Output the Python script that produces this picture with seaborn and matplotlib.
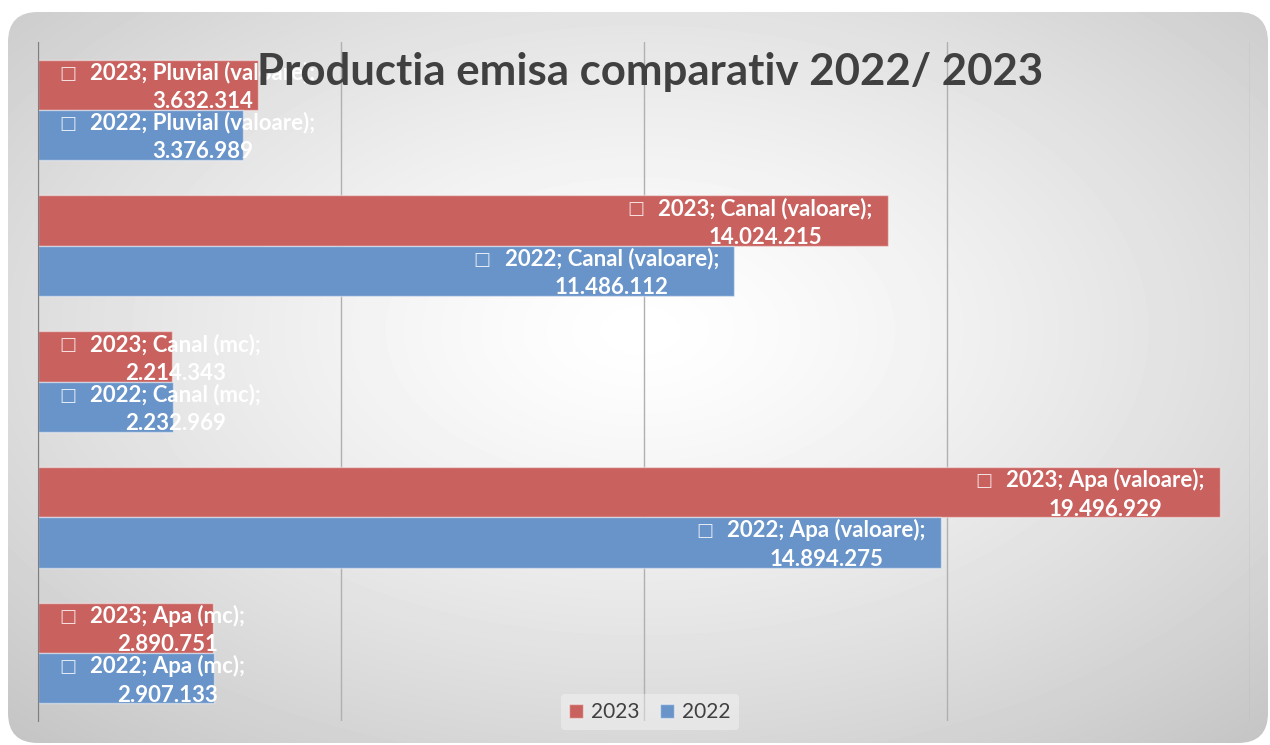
import numpy as np
import pandas as pd
import seaborn as sns
import matplotlib.pyplot as plt
from matplotlib.patches import FancyBboxPatch

# Data
categorii = ['Pluvial (valoare)', 'Canal (valoare)', 'Canal (mc)', 'Apa (valoare)', 'Apa (mc)']
ani = ['2023', '2022']
valori_2023 = [3632314, 14024215, 2214343, 19496929, 2890751]
valori_2022 = [3376989, 11486112, 2232969, 14894275, 2907133]
culori = {'2023': '#C9625F', '2022': '#6894CA'}

df = pd.DataFrame({
    'categorie': categorii * 2,
    'an': ['2023'] * len(categorii) + ['2022'] * len(categorii),
    'valoare': valori_2023 + valori_2022,
})

sns.set_style('white')
plt.rcParams['font.family'] = ['Lato', 'DejaVu Sans']

fig = plt.figure(figsize=(12.7, 7.45), dpi=100)

# Background: rounded panel with a radial grey gradient
bg = fig.add_axes([0, 0, 1, 1], zorder=-1)
bg.set_xlim(0, 1270)
bg.set_ylim(745, 0)
bg.axis('off')
yy, xx = np.mgrid[0:745, 0:1270]
r = np.sqrt(((xx - 640) / 700) ** 2 + ((yy - 330) / 420) ** 2)
grad = 1 - 0.16 * r ** 1.3
img = bg.imshow(grad, cmap='gray', vmin=0, vmax=1, extent=(0, 1270, 745, 0), aspect='auto')
panel = FancyBboxPatch((8, 12), 1260, 731, boxstyle='round,pad=0,rounding_size=30',
                       transform=bg.transData, fc='none', ec='none')
bg.add_patch(panel)
img.set_clip_path(panel)

# Main chart
ax = fig.add_axes([38 / 1270, 1 - 721 / 745, (1250 - 38) / 1270, (721 - 42) / 745])
ax.patch.set_alpha(0)
sns.barplot(data=df, x='valoare', y='categorie', hue='an', hue_order=ani, order=categorii,
            palette=culori, saturation=1, orient='h', width=0.74,
            edgecolor=(1, 1, 1, 0.45), linewidth=1, ax=ax, zorder=2)

ax.set_xlim(0, 20e6)
ax.set_xticks(np.arange(0, 20.1e6, 5e6))
ax.set_xticklabels([])
ax.set_yticklabels([])
ax.tick_params(length=0)
ax.set_xlabel('')
ax.set_ylabel('')
ax.grid(axis='x', color='#b0b0b0', lw=1)
ax.set_axisbelow(True)
for s in ['top', 'right', 'bottom']:
    ax.spines[s].set_visible(False)
ax.spines['left'].set_color('#7f7f7f')

# Data labels
for an, cont in zip(ani, ax.containers):
    for cat, bar in zip(categorii, cont):
        v = bar.get_width()
        yc = bar.get_y() + bar.get_height() / 2
        txt = f'{an}; {cat};\n{v:,.0f}'.replace(',', '.')
        if v > 5e6:
            t = ax.annotate(txt, (v, yc), xytext=(-15, -2), textcoords='offset pixels',
                            ha='right', va='center', multialignment='center', linespacing=1.45,
                            fontsize=16, weight='bold', color='white', zorder=5)
        else:
            t = ax.annotate(txt, (0, yc), xytext=(52, -2), textcoords='offset pixels',
                            ha='left', va='center', multialignment='center', linespacing=1.45,
                            fontsize=16, weight='bold', color='white', zorder=5)
        ax.annotate('\u25A1', xy=(0, 0.76), xycoords=t, xytext=(-14, 0),
                    textcoords='offset pixels', ha='right', va='center',
                    fontsize=13, color=(1, 1, 1, 0.8), family='DejaVu Sans', zorder=5)

# Legend
handles, labels = ax.get_legend_handles_labels()
ax.get_legend().remove()
fig.legend(handles, labels, loc='center', bbox_to_anchor=(650 / 1270, 1 - 712 / 745), ncol=2,
           frameon=True, facecolor='white', framealpha=0.35, edgecolor='none', fontsize=15,
           handlelength=0.65, handleheight=0.65, handletextpad=0.4, columnspacing=1.0,
           labelcolor='#404040')

fig.text(650 / 1270, 1 - 72 / 745, 'Productia emisa comparativ 2022/ 2023', ha='center',
         va='center', fontsize=31.5, weight='bold', color='#404040', zorder=10)

fig.savefig('out.png', dpi=100)
